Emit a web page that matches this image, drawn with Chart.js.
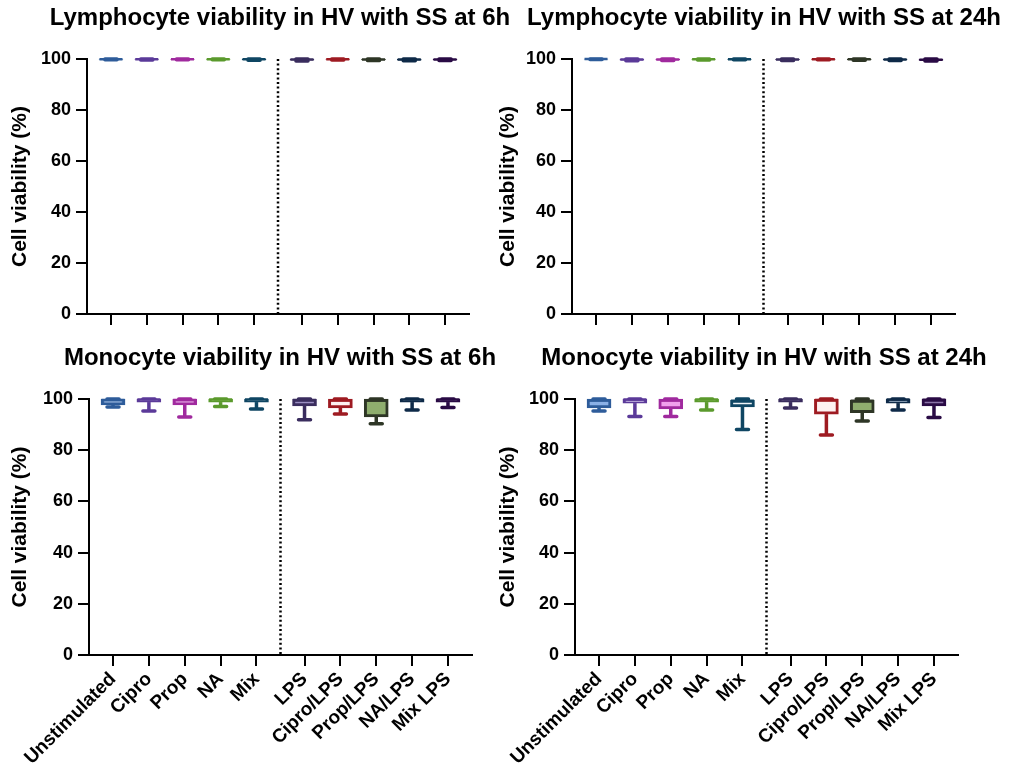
<!DOCTYPE html>
<html>
<head>
<meta charset="utf-8">
<script src="https://cdn.jsdelivr.net/npm/chart.js@4/dist/chart.umd.min.js"></script>
<style>
  html, body { margin: 0; padding: 0; background: #fff; overflow: hidden; width: 1011px; height: 772px; }
  .panel { position: absolute; }
</style>
</head>
<body>
<div class="panel" style="left:0;top:0;width:560px;height:340px"><canvas id="lym6"></canvas></div>
<div class="panel" style="left:490px;top:0;width:548px;height:340px"><canvas id="lym24"></canvas></div>
<div class="panel" style="left:0;top:340px;width:560px;height:432px"><canvas id="mono6"></canvas></div>
<div class="panel" style="left:490px;top:340px;width:548px;height:432px"><canvas id="mono24"></canvas></div>
<script>
// categories and their x positions (gap between the two groups)
const categories = ['Unstimulated', 'Cipro', 'Prop', 'NA', 'Mix', 'LPS', 'Cipro/LPS', 'Prop/LPS', 'NA/LPS', 'Mix LPS']
const xPositions = [0, 1, 2, 3, 4, 5.34, 6.34, 7.34, 8.34, 9.34]
const separatorX = 4.67
const yTicks = [0, 20, 40, 60, 80, 100]

// box plot values, % viability: min / q1 / median / q3 / max
const lym6Min = [99.7, 99.6, 99.7, 99.7, 99.5, 99.2, 99.6, 99.4, 99.3, 99.4]
const lym6Q1  = [99.8, 99.8, 99.8, 99.8, 99.7, 99.5, 99.8, 99.6, 99.5, 99.6]
const lym6Med = [99.9, 99.9, 99.9, 99.9, 99.9, 99.8, 99.9, 99.8, 99.8, 99.8]
const lym6Q3  = [100, 100, 100, 100, 100, 100, 100, 100, 100, 100]
const lym6Max = [100, 100, 100, 100, 100, 100, 100, 100, 100, 100]

const lym24Min = [99.8, 99.3, 99.4, 99.6, 99.7, 99.4, 99.7, 99.5, 99.4, 99.2]
const lym24Q1  = [99.9, 99.5, 99.6, 99.8, 99.8, 99.6, 99.8, 99.7, 99.6, 99.4]
const lym24Med = [100, 99.8, 99.8, 99.9, 99.9, 99.8, 99.9, 99.9, 99.8, 99.7]
const lym24Q3  = [100, 100, 100, 100, 100, 100, 100, 100, 100, 100]
const lym24Max = [100, 100, 100, 100, 100, 100, 100, 100, 100, 100]

const mono6Min = [96.9, 95.3, 93.0, 97.1, 96.1, 91.9, 94.1, 90.3, 95.7, 96.7]
const mono6Q1  = [97.7, 98.8, 97.7, 98.8, 98.8, 97.3, 96.5, 93.0, 98.8, 98.8]
const mono6Med = [99.6, 99.8, 99.6, 99.8, 99.8, 99.6, 99.5, 99.4, 99.8, 99.8]
const mono6Q3  = [100, 100, 100, 100, 100, 100, 100, 100, 100, 100]
const mono6Max = [100, 100, 100, 100, 100, 100, 100, 100, 100, 100]

const mono24Min = [95.3, 93.2, 93.2, 95.7, 88.1, 96.5, 85.9, 91.4, 95.7, 92.8]
const mono24Q1  = [96.5, 98.4, 96.1, 98.8, 96.9, 98.8, 94.1, 94.7, 98.4, 97.3]
const mono24Med = [99.5, 99.8, 99.5, 99.8, 99.3, 99.8, 99.6, 99.3, 99.8, 99.7]
const mono24Q3  = [100, 100, 100, 100, 99.6, 100, 100, 99.6, 100, 100]
const mono24Max = [100, 100, 100, 100, 100, 100, 100, 100, 100, 100]

const lineColors = ['#2e5c9a', '#5b3a99', '#a02a9e', '#5b9a2d', '#0f4663', '#3a2d5e', '#9e1b22', '#2e3626', '#0e2a48', '#2a0b45']
const fillColors = ['#8ab0e6', '#b9a5e0', '#f0a0ec', '#a9d67f', '#eef4f8', '#9b8fc2', '#fdf1f1', '#8fae6e', '#7d99b8', '#8b74a8']

Chart.defaults.font.family = "'Liberation Sans', Arial, Helvetica, sans-serif"
Chart.defaults.color = '#000'

// whiskers, medians and the dotted group separator
function boxExtras(stats) {
  return {
    id: 'boxExtras',
    beforeDatasetsDraw(chart) {
      const { ctx, scales: { x, y } } = chart
      ctx.save()
      const sx = x.getPixelForValue(separatorX)
      ctx.strokeStyle = '#000'
      ctx.lineWidth = 2.5
      ctx.setLineDash([2, 2.6])
      ctx.beginPath()
      ctx.moveTo(sx, y.getPixelForValue(100))
      ctx.lineTo(sx, y.getPixelForValue(0))
      ctx.stroke()
      ctx.setLineDash([])

      xPositions.forEach((v, i) => {
        const px = x.getPixelForValue(v)
        ctx.strokeStyle = lineColors[i]
        ctx.lineWidth = 3.5
        ctx.lineCap = 'butt'
        ctx.beginPath()
        ctx.moveTo(px, y.getPixelForValue(stats.q1[i]))
        ctx.lineTo(px, y.getPixelForValue(stats.min[i]))
        ctx.moveTo(px, y.getPixelForValue(stats.q3[i]))
        ctx.lineTo(px, y.getPixelForValue(stats.max[i]))
        ctx.stroke()
        ctx.lineCap = 'round'
        ctx.beginPath()
        const lo = y.getPixelForValue(stats.min[i])
        const hi = y.getPixelForValue(stats.max[i])
        ctx.moveTo(px - 6, lo); ctx.lineTo(px + 6, lo)
        ctx.moveTo(px - 6, hi); ctx.lineTo(px + 6, hi)
        ctx.stroke()
      })
      ctx.restore()
    },
    afterDatasetsDraw(chart) {
      const { ctx, scales: { x, y } } = chart
      ctx.save()
      xPositions.forEach((v, i) => {
        const px = x.getPixelForValue(v)
        const py = y.getPixelForValue(stats.med[i])
        ctx.strokeStyle = lineColors[i]
        ctx.lineWidth = 2.5
        ctx.beginPath()
        ctx.moveTo(px - 11.5, py)
        ctx.lineTo(px + 11.5, py)
        ctx.stroke()
      })
      ctx.restore()
    }
  }
}

function makePanel(id, title, stats, lay) {
  new Chart(document.getElementById(id), {
    type: 'bar',
    data: {
      datasets: [{
        data: xPositions.map((v, i) => ({ x: v, y: [stats.q1[i], stats.q3[i]] })),
        backgroundColor: fillColors,
        borderColor: lineColors,
        borderWidth: 3,
        borderSkipped: false,
        barThickness: 24,
        clip: false
      }]
    },
    options: {
      responsive: true,
      maintainAspectRatio: false,
      animation: false,
      events: [],
      layout: { padding: 0 },
      plugins: {
        legend: { display: false },
        tooltip: { enabled: false },
        title: {
          display: true,
          text: title,
          font: { size: 24, weight: 'bold', lineHeight: 1.2 },
          color: '#000',
          padding: { top: 3.6, bottom: 26.6 }
        }
      },
      scales: {
        x: {
          type: 'linear',
          offset: false,
          min: -0.67,
          max: 10.01,
          afterBuildTicks: s => { s.ticks = xPositions.map(v => ({ value: v })) },
          afterFit: s => { s.height = lay.xH },
          grid: { offset: false, drawOnChartArea: false, drawTicks: true, tickLength: 11, color: '#000', lineWidth: 2 },
          border: { display: true, color: '#000', width: 2 },
          ticks: {
            display: lay.labels,
            autoSkip: false,
            minRotation: 45,
            maxRotation: 45,
            padding: 2,
            color: '#000',
            font: { size: 19, weight: 'bold' },
            callback: (val, idx) => categories[idx]
          }
        },
        y: {
          min: 0,
          max: 100,
          afterBuildTicks: s => { s.ticks = yTicks.map(v => ({ value: v })) },
          afterFit: s => { s.width = lay.yW },
          grid: { drawOnChartArea: false, drawTicks: true, tickLength: 11, color: '#000', lineWidth: 2 },
          border: { display: true, color: '#000', width: 2 },
          ticks: { padding: 5, color: '#000', font: { size: 18, weight: 'bold' } },
          title: {
            display: true,
            text: 'Cell viability (%)',
            color: '#000',
            font: { size: 21, weight: 'bold', lineHeight: 1.2 },
            padding: { top: lay.yTitle - 12.6, bottom: 0 }
          }
        },
        yR: {
          position: 'right',
          display: true,
          afterFit: s => { s.width = lay.rW },
          grid: { display: false },
          border: { display: false },
          ticks: { display: false }
        }
      }
    },
    plugins: [boxExtras(stats)]
  })
}

makePanel('lym6', 'Lymphocyte viability in HV with SS at 6h',
  { min: lym6Min, q1: lym6Q1, med: lym6Med, q3: lym6Q3, max: lym6Max },
  { yW: 87, rW: 91, xH: 26, yTitle: 20, labels: false })
makePanel('lym24', 'Lymphocyte viability in HV with SS at 24h',
  { min: lym24Min, q1: lym24Q1, med: lym24Med, q3: lym24Q3, max: lym24Max },
  { yW: 82, rW: 83, xH: 26, yTitle: 18, labels: false })
makePanel('mono6', 'Monocyte viability in HV with SS at 6h',
  { min: mono6Min, q1: mono6Q1, med: mono6Med, q3: mono6Q3, max: mono6Max },
  { yW: 89, rW: 88, xH: 117, yTitle: 20, labels: true })
makePanel('mono24', 'Monocyte viability in HV with SS at 24h',
  { min: mono24Min, q1: mono24Q1, med: mono24Med, q3: mono24Q3, max: mono24Max },
  { yW: 85, rW: 80, xH: 117, yTitle: 18, labels: true })
</script>
</body>
</html>
